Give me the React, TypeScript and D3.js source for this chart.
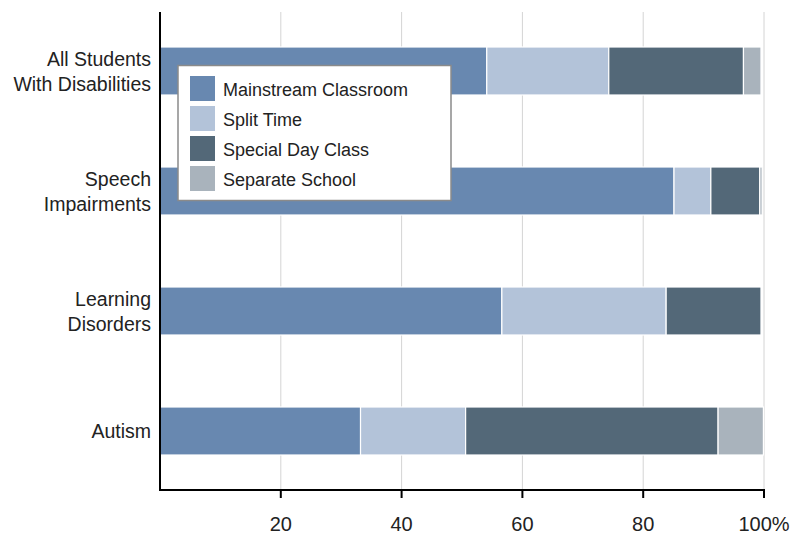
import React from "react";
import * as d3 from "d3";

const categories = ["All Students|With Disabilities", "Speech|Impairments", "Learning|Disorders", "Autism"];
const seriesNames = ["Mainstream Classroom", "Split Time", "Special Day Class", "Separate School"];
const mainstream = [54.1, 85.1, 56.6, 33.2];
const splitTime = [20.2, 6.1, 27.2, 17.4];
const specialDay = [22.3, 8.1, 15.7, 41.8];
const separateSchool = [2.9, 0.4, 0, 7.5];
const colors = ["#6888b0", "#b3c3d9", "#536878", "#a9b3bc"];
const tickValues = [20, 40, 60, 80, 100];
const tickLabels = ["20", "40", "60", "80", "100%"];

const W = 792, H = 535;
const FONT = "'Liberation Sans', Arial, sans-serif";

export default function App() {
  const x = d3.scaleLinear().domain([0, 100]).range([160, 764]);
  const y = d3.scaleBand().domain(categories).range([11, 491]).paddingInner(0.6).paddingOuter(0.3);
  const series = [mainstream, splitTime, specialDay, separateSchool];
  const rows = categories.map((c, i) => ({ key: c, values: series.map(s => s[i]) }));
  const stack = d3.stack<any>().keys([0, 1, 2, 3].map(String)).value((d: any, k: string) => d.values[+k]);
  const stacked = stack(rows as any);
  const bw = y.bandwidth();

  return (
    <svg width={W} height={H} style={{ position: "absolute", left: 0, top: 0, background: "#fff" }} fontFamily={FONT}>
      {/* grid */}
      {tickValues.map(t => (
        <line key={t} x1={x(t)} x2={x(t)} y1={12} y2={490} stroke="#d4d4d4" strokeWidth={1} />
      ))}
      {/* bars */}
      {stacked.map((layer, si) => (
        <g key={si}>
          {layer.map((d: any, i: number) => {
            const w = x(d[1]) - x(d[0]);
            if (w <= 0) return null;
            return (
              <rect key={i} x={x(d[0])} y={y(categories[i])!} width={w} height={bw}
                fill={colors[si]} stroke="#fff" strokeWidth={1.2} />
            );
          })}
        </g>
      ))}
      {/* axes */}
      <line x1={160} x2={160} y1={12} y2={491} stroke="#000" strokeWidth={2} />
      <line x1={159} x2={765} y1={490} y2={490} stroke="#000" strokeWidth={2} />
      {tickValues.map((t, i) => (
        <g key={t}>
          <line x1={x(t)} x2={x(t)} y1={490} y2={498} stroke="#000" strokeWidth={2} />
          <text x={x(t)} y={531} textAnchor="middle" fontSize={20} fill="#222">{tickLabels[i]}</text>
        </g>
      ))}
      {/* category labels */}
      {categories.map(c => {
        const lines = c.split("|");
        const cy = y(c)! + bw / 2;
        return (
          <text key={c} textAnchor="end" fontSize={19.5} fill="#222">
            {lines.map((l, j) => (
              <tspan key={j} x={151} y={cy + 7 + (j - (lines.length - 1) / 2) * 25}>{l}</tspan>
            ))}
          </text>
        );
      })}
      {/* legend */}
      <rect x={178} y={65.5} width={273} height={135} fill="#fff" stroke="#8a8a8a" strokeWidth={1.5} />
      {seriesNames.map((n, i) => (
        <g key={n}>
          <rect x={190} y={76 + i * 30} width={25} height={25} fill={colors[i]} />
          <text x={223} y={96 + i * 30} fontSize={18} fill="#222">{n}</text>
        </g>
      ))}
    </svg>
  );
}
